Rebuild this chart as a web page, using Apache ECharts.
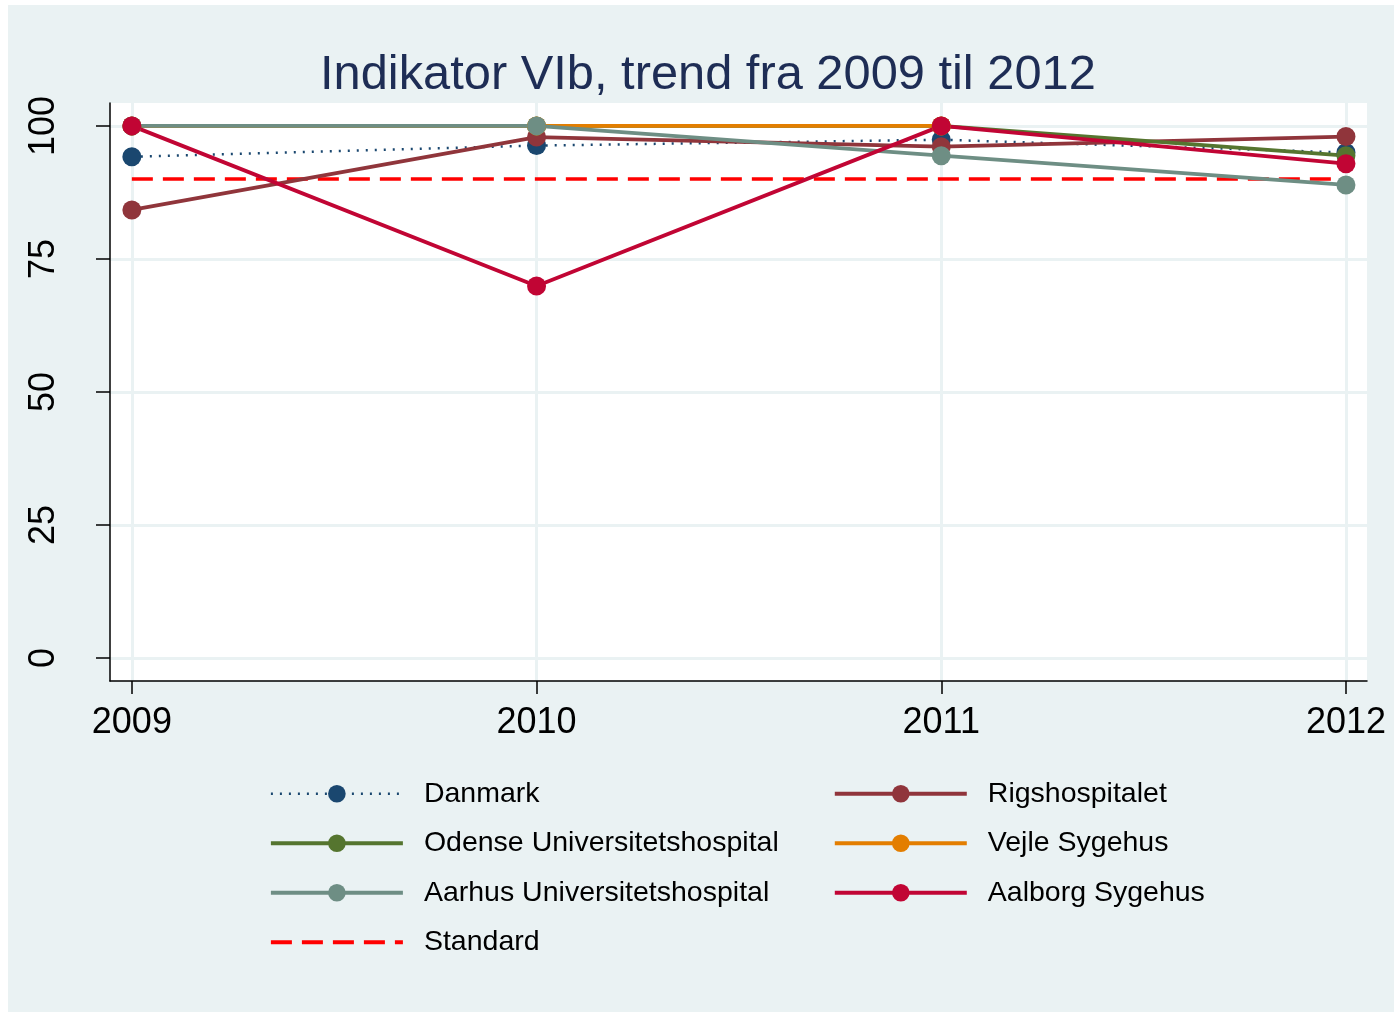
<!DOCTYPE html>
<html>
<head>
<meta charset="utf-8">
<script src="https://cdn.jsdelivr.net/npm/echarts@6/dist/echarts.min.js"></script>
<style>
  html, body { margin: 0; padding: 0; background: #fff; }
  #chart { position: absolute; left: 8px; top: 5px; width: 1386px; height: 1007px; }
</style>
</head>
<body>
<div id="chart"></div>
<script>
// data
var years = [2009, 2010, 2011, 2012];
var yTicks = [0, 25, 50, 75, 100];
var danmark = [94.2, 96.3, 97.4, 95.0];
var rigshospitalet = [84.2, 97.9, 96.1, 98.0];
var odense = [100, 100, 100, 94.4];
var vejle = [100, 100, 100, null];
var aarhus = [100, 100, 94.4, 88.9];
var aalborg = [100, 69.9, 100, 92.9];
var standard = [90, 90, 90, 90];

function pairs(vals) {
    return years.map(function (y, i) { return [y, vals[i]]; });
}

var font = 'Liberation Sans, Arial, sans-serif';

function lineSeries(name, vals, color, lineType, width, symbol) {
    return {
        name: name,
        type: 'line',
        data: pairs(vals),
        symbol: symbol || 'circle',
        symbolSize: 19,
        connectNulls: false,
        itemStyle: { color: color },
        lineStyle: { color: color, width: width, type: lineType },
        emphasis: { disabled: true },
        animation: false
    };
}

function legendItem(name, width) {
    return { name: name, lineStyle: { width: width } };
}

var chart = echarts.init(document.getElementById('chart'));

chart.setOption({
    backgroundColor: '#eaf2f3',
    title: {
        text: 'Indikator VIb, trend fra 2009 til 2012',
        left: 312,
        top: 46,
        padding: 0,
        textStyle: { fontFamily: font, fontSize: 48.8, fontWeight: 'normal', color: '#1e2d55' }
    },
    grid: {
        left: 102, top: 98, right: 27, bottom: 331,
        show: true, backgroundColor: '#ffffff', borderWidth: 0
    },
    xAxis: {
        type: 'value',
        min: 2008.946,
        max: 2012.052,
        axisLine: { show: true, onZero: false, lineStyle: { color: '#000', width: 1.5 } },
        axisTick: { show: true, customValues: years, length: 13, lineStyle: { color: '#000', width: 1.5 } },
        axisLabel: {
            customValues: years, margin: 24, color: '#000',
            fontFamily: font, fontSize: 36,
            formatter: function (v) { return String(v); }
        },
        splitLine: { show: true, lineStyle: { color: '#eaf2f3', width: 3 } }
    },
    yAxis: {
        type: 'value',
        min: -4.3,
        max: 104.3,
        axisLine: { show: true, onZero: false, lineStyle: { color: '#000', width: 1.5 } },
        axisTick: { show: true, customValues: yTicks, length: 14, lineStyle: { color: '#000', width: 1.5 } },
        axisLabel: {
            customValues: yTicks, rotate: 90, margin: 48, color: '#000',
            fontFamily: font, fontSize: 36
        },
        splitLine: { show: true, lineStyle: { color: '#eaf2f3', width: 3 } }
    },
    legend: {
        left: 256,
        top: 759,
        width: 1170,
        itemWidth: 132,
        itemHeight: 22,
        itemGap: 0,
        selectedMode: false,
        data: [
            legendItem('Danmark', 2.5),
            legendItem('Rigshospitalet', 3.8),
            legendItem('Odense Universitetshospital', 3.8),
            legendItem('Vejle Sygehus', 3.8),
            legendItem('Aarhus Universitetshospital', 3.8),
            legendItem('Aalborg Sygehus', 3.8),
            { name: 'Standard', lineStyle: { width: 3.8 }, itemStyle: { color: 'rgba(0,0,0,0)', borderWidth: 0 } }
        ],
        textStyle: {
            fontFamily: font, fontSize: 28.5, color: '#000',
            width: 409, lineHeight: 49.5, padding: [0, 0, 0, 16]
        }
    },
    series: [
        lineSeries('Standard', standard, '#ff0000', [21, 10], 3.5, 'none'),
        lineSeries('Danmark', danmark, '#1a476f', [2, 7], 2.5),
        lineSeries('Rigshospitalet', rigshospitalet, '#90353b', 'solid', 3.8),
        lineSeries('Odense Universitetshospital', odense, '#55752f', 'solid', 3.8),
        lineSeries('Vejle Sygehus', vejle, '#e37e00', 'solid', 3.8),
        lineSeries('Aarhus Universitetshospital', aarhus, '#6e8e84', 'solid', 3.8),
        lineSeries('Aalborg Sygehus', aalborg, '#c10534', 'solid', 3.8)
    ]
});
</script>
</body>
</html>
